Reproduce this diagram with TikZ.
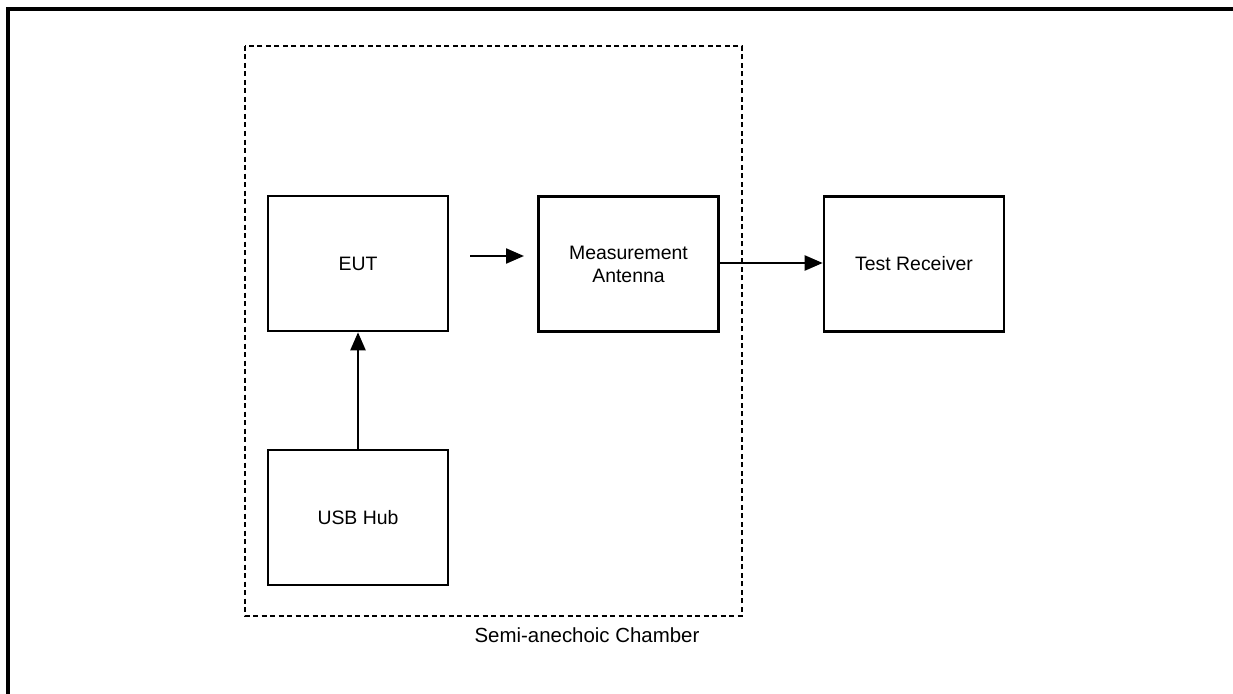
\documentclass[tikz,border=0pt]{standalone}
\usepackage{fontspec}
\setmainfont{Liberation Sans}
\usetikzlibrary{arrows.meta}
\begin{document}
\begin{tikzpicture}[x=1bp,y=-1bp,
  txt/.style={font=\fontsize{19.5}{23}\selectfont, inner sep=0pt, align=center},
  blk/.style={txt, draw, line width=2.6bp, minimum width=180bp, minimum height=135bp},
  conn/.style={line width=2.3bp, -{Triangle[length=18bp,width=15bp]}},
  chamber/.style={line width=2.5bp, dash pattern=on 5bp off 3.5bp},
  frame/.style={line width=4bp}]
\useasboundingbox (0,0) rectangle (1233,694);
\draw[frame] (8,694) -- (8,9) -- (1233,9);
\draw[chamber] (245,46) rectangle (742,616);
\node[blk] (eut) at (358,263.5) {EUT};
\node[blk] (ant) at (628.5,264) {Measurement\\Antenna};
\node[blk] (rx) at (914,264) {Test Receiver};
\node[blk] (usb) at (358,517.5) {USB Hub};
\node[txt, font=\fontsize{20.5}{24}\selectfont, anchor=base] (lbl) at (587,642) {Semi-anechoic Chamber};
\coordinate (a1) at (470,256);
\coordinate (a2) at (524,256);
\draw[conn] (a1) -- (a2);
\draw[conn] (ant.east |- 0,263) -- (rx.west |- 0,263);
\draw[conn] (usb.north) -- (eut.south);
\end{tikzpicture}
\end{document}
